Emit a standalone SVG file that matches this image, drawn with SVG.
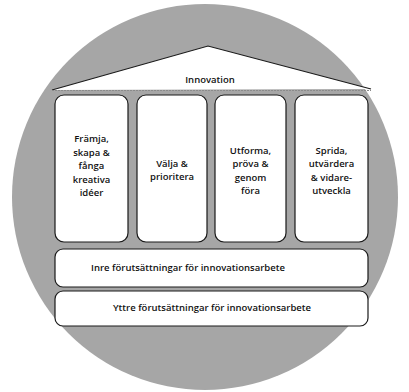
<svg xmlns="http://www.w3.org/2000/svg" width="409" height="392" viewBox="0 0 409 392">
<style>
.box{fill:#fff;stroke:#1a1a1a;stroke-width:1.2}
.t{font-family:"Open Sans","Liberation Sans",sans-serif;font-size:9.5px;font-weight:600;fill:#111;text-anchor:middle}
</style>
<rect width="409" height="392" fill="#fff"/>
<g id="background">
<circle cx="205" cy="197" r="193" fill="#a6a6a6"/>
</g>
<g id="roof">
<path d="M52,90 L208,46 L371,89 Z" fill="#fff"/>
<path d="M52,90 L208,46 L371,89" fill="none" stroke="#1a1a1a" stroke-width="1.2"/>
<line x1="52" y1="90.5" x2="371" y2="90.5" stroke="#8a8a8a" stroke-width="1" stroke-dasharray="2 1"/>
<text class="t" x="210" y="83">Innovation</text>
</g>
<g id="pillar1">
<rect class="box" x="55" y="95" width="73" height="147" rx="9"/>
<text class="t" x="91.5" y="142">Främja,</text>
<text class="t" x="91.5" y="156">skapa &amp;</text>
<text class="t" x="91.5" y="169">fånga</text>
<text class="t" x="91.5" y="183">kreativa</text>
<text class="t" x="91.5" y="196">idéer</text>
</g>
<g id="pillar2">
<rect class="box" x="137" y="95" width="70" height="147" rx="9"/>
<text class="t" x="172" y="167">Välja &amp;</text>
<text class="t" x="172" y="180">prioritera</text>
</g>
<g id="pillar3">
<rect class="box" x="215" y="95" width="71" height="147" rx="9"/>
<text class="t" x="250.5" y="154">Utforma,</text>
<text class="t" x="250.5" y="167">pröva &amp;</text>
<text class="t" x="250.5" y="181">genom</text>
<text class="t" x="250.5" y="194">föra</text>
</g>
<g id="pillar4">
<rect class="box" x="295" y="95" width="73" height="147" rx="9"/>
<text class="t" x="331.5" y="154">Sprida,</text>
<text class="t" x="331.5" y="167">utvärdera</text>
<text class="t" x="331.5" y="181">&amp; vidare-</text>
<text class="t" x="331.5" y="194">utveckla</text>
</g>
<g id="inre">
<rect class="box" x="55" y="249" width="313" height="38" rx="8"/>
<text class="t" x="188" y="271">Inre förutsättningar för innovationsarbete</text>
</g>
<g id="yttre">
<rect class="box" x="55" y="291" width="313" height="35" rx="8"/>
<text class="t" x="212" y="311">Yttre förutsättningar för innovationsarbete</text>
</g>
<g id="connectors"></g>
</svg>
